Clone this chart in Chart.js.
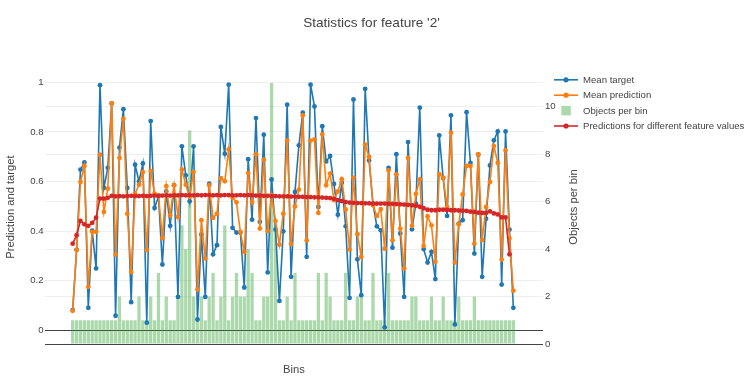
<!DOCTYPE html>
<html>
<head>
<meta charset="utf-8">
<script src="https://cdn.jsdelivr.net/npm/chart.js"></script>
<style>
html,body{margin:0;padding:0;background:#fff;}
#wrap{position:relative;width:756px;height:386px;}
</style>
</head>
<body>
<div id="wrap"><canvas id="c" width="756" height="386"></canvas></div>
<script>
// ---------- data ----------
const chartTitle = "Statistics for feature '2'";
const xTitle = 'Bins';
const leftTitle = 'Prediction and target';
const rightTitle = 'Objects per bin';
const leftTicks = [0, 0.2, 0.4, 0.6, 0.8, 1];
const leftTickLabels = ['0', '0.2', '0.4', '0.6', '0.8', '1'];
const rightTicks = [0, 2, 4, 6, 8, 10];
const rightTickLabels = ['0', '2', '4', '6', '8', '10'];

const meanTarget = [
0.081,0.324,0.648,0.677,0.090,0.402,0.249,0.989,0.574,0.655,
0.915,0.058,0.737,0.892,0.574,0.113,0.668,0.600,0.673,0.030,
0.844,0.493,0.540,0.265,0.560,0.421,0.585,0.134,0.742,0.625,
0.520,0.742,0.043,0.386,0.134,0.591,0.306,0.343,0.820,0.712,
0.991,0.413,0.394,0.394,0.172,0.690,0.446,0.856,0.437,0.789,
0.233,0.608,0.406,0.118,0.399,0.910,0.215,0.558,0.746,0.878,
0.296,0.991,0.903,0.497,0.823,0.681,0.703,0.590,0.466,0.595,
0.419,0.130,0.931,0.286,0.141,0.974,0.685,0.511,0.419,0.403,
0.011,0.655,0.333,0.710,0.390,0.134,0.759,0.407,0.511,0.898,
0.327,0.273,0.316,0.206,0.786,0.614,0.461,0.867,0.023,0.430,
0.444,0.880,0.675,0.309,0.708,0.215,0.450,0.665,0.766,0.802,
0.184,0.802,0.406,0.090];

const meanPrediction = [
0.078,0.324,0.598,0.663,0.175,0.397,0.397,0.708,0.477,0.571,
0.915,0.305,0.695,0.853,0.470,0.235,0.551,0.587,0.638,0.323,
0.642,0.551,0.544,0.372,0.581,0.464,0.585,0.457,0.648,0.587,
0.538,0.638,0.164,0.444,0.289,0.585,0.453,0.470,0.614,0.601,
0.730,0.534,0.516,0.397,0.316,0.634,0.517,0.710,0.410,0.688,
0.401,0.544,0.441,0.345,0.470,0.765,0.348,0.499,0.567,0.867,
0.362,0.765,0.770,0.473,0.790,0.585,0.632,0.525,0.560,0.609,
0.487,0.325,0.616,0.387,0.296,0.749,0.699,0.504,0.461,0.488,
0.329,0.645,0.363,0.629,0.410,0.249,0.695,0.421,0.550,0.608,
0.340,0.460,0.423,0.276,0.630,0.616,0.497,0.797,0.273,0.427,
0.548,0.663,0.663,0.349,0.710,0.364,0.497,0.598,0.743,0.675,
0.285,0.726,0.370,0.159];

const objectsPerBin = [
1,1,1,1,1,1,1,1,1,1,
1,1,2,1,1,1,1,2,1,1,
2,1,3,1,2,1,1,2,5,4,
9,2,1,2,1,2,3,1,2,5,
1,2,3,2,2,4,3,1,1,2,
2,11,5,1,1,2,1,3,1,1,
1,1,1,3,1,3,2,1,1,1,
3,1,1,2,2,1,1,3,1,1,
1,3,1,1,1,1,1,2,2,1,
1,1,2,1,1,2,1,1,1,2,
1,1,1,2,1,1,1,1,1,1,
1,1,1,1];

const featurePredictions = [
0.349,0.383,0.441,0.427,0.421,0.433,0.454,0.531,0.531,0.534,
0.542,0.540,0.541,0.540,0.541,0.542,0.541,0.541,0.542,0.541,
0.542,0.543,0.542,0.543,0.544,0.543,0.544,0.544,0.545,0.544,
0.545,0.544,0.545,0.544,0.545,0.545,0.544,0.545,0.544,0.545,
0.545,0.544,0.544,0.545,0.544,0.545,0.544,0.543,0.543,0.542,
0.542,0.541,0.541,0.540,0.540,0.540,0.539,0.539,0.538,0.538,
0.537,0.537,0.536,0.536,0.535,0.534,0.533,0.530,0.525,0.521,
0.517,0.515,0.514,0.513,0.513,0.512,0.512,0.511,0.511,0.511,
0.511,0.510,0.510,0.509,0.508,0.507,0.506,0.504,0.502,0.498,
0.492,0.486,0.484,0.484,0.486,0.486,0.485,0.484,0.484,0.483,
0.482,0.481,0.478,0.477,0.474,0.473,0.473,0.479,0.471,0.467,
0.455,0.455,0.306,null];

const bins = meanTarget.map((_, i) => i);   // bin positions (categories)

// ---------- styling ----------
const FONT = '"Liberation Sans", Arial, Helvetica, sans-serif';
const TXT = '#444';
const BLUE = '#1f77b4', ORANGE = '#ff7f0e', GREEN = 'rgba(44,160,44,0.4)', RED = '#d62728';

const pts = arr => bins.map(i => ({x: i, y: arr[i]}));

const sideLegend = {
  id: 'sideLegend',
  afterDraw(chart) {
    const ctx = chart.ctx;
    const top = 79.8, step = 15.4;
    ctx.save();
    ctx.font = '9.6px ' + FONT;
    ctx.textBaseline = 'middle';
    ctx.textAlign = 'left';
    chart.data.datasets.forEach((ds, i) => {
      const y = top + i * step;
      if (ds.type === 'bar') {
        ctx.fillStyle = ds.backgroundColor;
        ctx.fillRect(561.3, y - 4.75, 9.5, 9.5);
      } else {
        ctx.strokeStyle = ds.borderColor;
        ctx.lineWidth = 1.6;
        ctx.beginPath(); ctx.moveTo(554, y); ctx.lineTo(578, y); ctx.stroke();
        ctx.fillStyle = ds.borderColor;
        ctx.beginPath(); ctx.arc(566, y, 2.6, 0, Math.PI * 2); ctx.fill();
      }
      ctx.fillStyle = TXT;
      ctx.fillText(ds.label, 583, y + 0.5);
    });
    const ca = chart.chartArea;
    ctx.translate(573.5, (ca.top + ca.bottom) / 2);
    ctx.rotate(-Math.PI / 2);
    ctx.textAlign = 'center';
    ctx.font = '11.2px ' + FONT;
    ctx.fillText(rightTitle, 0, 0);
    ctx.restore();
  }
};

new Chart(document.getElementById('c'), {
  data: {
    datasets: [
      { type: 'line', label: 'Mean target', data: pts(meanTarget), yAxisID: 'y',
        borderColor: BLUE, backgroundColor: BLUE, borderWidth: 1.6, pointRadius: 2.4,
        pointBorderWidth: 0, pointBackgroundColor: BLUE, tension: 0, order: 2 },
      { type: 'line', label: 'Mean prediction', data: pts(meanPrediction), yAxisID: 'y',
        borderColor: ORANGE, backgroundColor: ORANGE, borderWidth: 1.6, pointRadius: 2.4,
        pointBorderWidth: 0, pointBackgroundColor: ORANGE, tension: 0, order: 1 },
      { type: 'bar', label: 'Objects per bin', data: pts(objectsPerBin), yAxisID: 'y2',
        backgroundColor: GREEN, borderWidth: 0, categoryPercentage: 0.85, barPercentage: 1.0, order: 3 },
      { type: 'line', label: 'Predictions for different feature values', data: pts(featurePredictions), yAxisID: 'y',
        borderColor: RED, backgroundColor: RED, borderWidth: 1.6, pointRadius: 2.4,
        pointBorderWidth: 0, pointBackgroundColor: RED, tension: 0, spanGaps: false, order: 0 }
    ]
  },
  options: {
    responsive: false,
    animation: false,
    devicePixelRatio: 1,
    layout: { padding: { left: 0, right: 13, top: 0, bottom: 0 } },
    plugins: {
      legend: { display: false },
      tooltip: { enabled: false },
      title: { display: true, text: chartTitle, color: TXT,
        font: { family: FONT, size: 13.6, weight: 'normal' },
        padding: { top: 15.3, bottom: 38.4 } }
    },
    scales: {
      x: { type: 'linear', min: -7.1, max: 120.6, offset: false,
        grid: { display: false, offset: false }, border: { display: false },
        ticks: { display: false },
        title: { display: true, text: xTitle, color: TXT, font: { family: FONT, size: 11.2 }, padding: { top: 0, bottom: 9.3 } },
        afterFit(s) { s.height = 42; } },
      y: { type: 'linear', position: 'left', min: -0.056, max: 1.05,
        afterBuildTicks(s) { s.ticks = leftTicks.map(v => ({ value: v })); },
        ticks: { color: TXT, font: { family: FONT, size: 9.6 }, padding: 1.5,
          callback: (v, i) => leftTickLabels[leftTicks.indexOf(v)] },
        grid: { color: c => (c.tick && c.tick.value === 0) ? '#444' : '#eee', lineWidth: 1, drawTicks: false },
        border: { display: false },
        title: { display: true, text: leftTitle, color: TXT, font: { family: FONT, size: 11.2 } },
        afterFit(s) { s.width = 45; } },
      y2: { type: 'linear', position: 'right', min: 0, max: 11.55,
        afterBuildTicks(s) { s.ticks = rightTicks.map(v => ({ value: v })); },
        ticks: { color: TXT, font: { family: FONT, size: 9.6 }, padding: 2,
          callback: (v) => rightTickLabels[rightTicks.indexOf(v)] },
        grid: { color: c => (c.tick && c.tick.value === 0) ? '#444' : '#eee', lineWidth: 1, drawTicks: false },
        border: { display: false },
        title: { display: false, text: rightTitle },
        afterFit(s) { s.width = 200; } }
    }
  },
  plugins: [sideLegend]
});
</script>
</body>
</html>
